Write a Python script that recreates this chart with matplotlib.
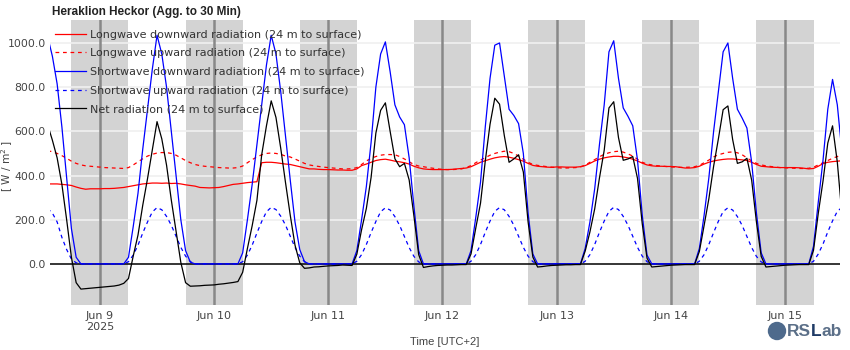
import matplotlib
matplotlib.use("Agg")
import matplotlib.pyplot as plt
import matplotlib.dates as mdates
from matplotlib.patches import Ellipse
import pandas as pd

# hourly readings, Jun 8 13:00 -> Jun 15 12:00 (UTC+2)
times = pd.date_range("2025-06-08 13:00", periods=168, freq="h")

sw_down = [
    1030, 940, 815, 620, 390, 160, 30, 0, 0, 0, 0,
    0, 0, 0, 0, 0, 0, 30, 170, 320, 520, 700, 880, 1035, 950, 800, 600, 400, 200, 60, 8, 0, 0, 0, 0,
    0, 0, 0, 0, 0, 0, 50, 200, 360, 540, 720, 900, 1035, 950, 780, 580, 380, 190, 65, 10, 0, 0, 0, 0,
    0, 0, 0, 0, 0, 0, 60, 200, 350, 550, 800, 950, 1005, 870, 720, 665, 630, 480, 260, 60, 0, 0, 0, 0,
    0, 0, 0, 0, 0, 0, 60, 210, 370, 620, 840, 990, 1000, 850, 700, 672, 635, 500, 230, 45, 0, 0, 0, 0,
    0, 0, 0, 0, 0, 0, 70, 190, 340, 540, 720, 960, 1010, 840, 706, 668, 625, 470, 220, 40, 0, 0, 0, 0,
    0, 0, 0, 0, 0, 0, 70, 220, 390, 600, 780, 960, 1000, 840, 700, 660, 615, 460, 230, 50, 0, 0, 0, 0,
    0, 0, 0, 0, 0, 0, 80, 280, 470, 700, 835, 720, 500,
]
sw_up = [
    250, 230, 190, 120, 65, 22, 5, 0, 0, 0, 0,
    0, 0, 0, 0, 0, 0, 10, 40, 85, 140, 190, 235, 255, 245, 215, 175, 125, 75, 35, 10, 0, 0, 0, 0,
    0, 0, 0, 0, 0, 0, 10, 40, 85, 140, 192, 236, 256, 246, 216, 176, 125, 75, 35, 10, 0, 0, 0, 0,
    0, 0, 0, 0, 0, 0, 12, 42, 88, 142, 192, 236, 254, 244, 214, 174, 124, 74, 34, 9, 0, 0, 0, 0,
    0, 0, 0, 0, 0, 0, 12, 42, 88, 143, 194, 238, 255, 245, 215, 175, 125, 75, 35, 10, 0, 0, 0, 0,
    0, 0, 0, 0, 0, 0, 12, 42, 88, 143, 194, 238, 256, 246, 215, 175, 125, 75, 35, 10, 0, 0, 0, 0,
    0, 0, 0, 0, 0, 0, 12, 42, 88, 142, 193, 237, 254, 244, 214, 174, 124, 74, 34, 9, 0, 0, 0, 0,
    0, 0, 0, 0, 0, 0, 12, 45, 90, 145, 195, 238, 256,
]
lw_down = [
    362, 362, 362, 360, 358, 355, 348, 342, 338, 340, 340,
    340, 341, 341, 342, 344, 346, 350, 354, 358, 362, 364, 366, 366, 365, 366, 364, 365, 362, 358, 355, 352, 346, 345, 344,
    345, 346, 350, 355, 360, 362, 365, 368, 370, 372, 458, 460, 460, 458, 455, 452, 450, 445, 440, 435, 430, 430, 428, 427,
    427, 426, 425, 425, 424, 424, 430, 445, 452, 460, 468, 472, 474, 470, 465, 462, 458, 452, 442, 435, 430, 428, 427, 427,
    427, 427, 428, 430, 432, 434, 440, 450, 460, 467, 474, 480, 484, 486, 483, 478, 472, 465, 455, 446, 442, 440, 438, 437,
    439, 439, 438, 438, 438, 440, 445, 455, 466, 474, 480, 484, 487, 487, 484, 480, 474, 466, 456, 448, 444, 442, 442, 441,
    441, 440, 437, 434, 434, 436, 442, 452, 460, 466, 470, 473, 475, 475, 473, 471, 468, 460, 450, 442, 440, 438, 437, 436,
    436, 436, 436, 435, 433, 430, 432, 442, 454, 460, 463, 465, 467,
]
lw_up = [
    512, 508, 500, 490, 478, 465, 455, 448, 444, 442, 440,
    438, 436, 435, 434, 433, 432, 436, 448, 462, 476, 488, 496, 502, 504, 504, 500, 492, 480, 468, 458, 450, 445, 442, 440,
    438, 436, 435, 434, 434, 436, 443, 458, 472, 484, 494, 500, 502, 500, 496, 488, 484, 475, 465, 455, 448, 444, 441, 438,
    436, 434, 432, 430, 430, 431, 436, 450, 466, 478, 486, 492, 495, 495, 494, 486, 475, 462, 450, 443, 440, 436, 433, 430,
    428, 427, 427, 428, 430, 436, 445, 458, 470, 481, 492, 500, 506, 510, 508, 500, 488, 474, 460, 450, 446, 443, 440, 438,
    436, 434, 434, 435, 436, 439, 447, 460, 472, 485, 496, 503, 508, 510, 506, 498, 488, 474, 460, 452, 448, 445, 443, 441,
    439, 438, 437, 437, 438, 440, 446, 458, 470, 484, 494, 500, 505, 507, 503, 494, 480, 466, 455, 448, 444, 441, 438, 436,
    435, 434, 433, 432, 432, 433, 438, 448, 458, 468, 478, 486, 494,
]
net = [
    630, 560, 480, 360, 200, 30, -85, -114, -112, -110, -108,
    -106, -104, -102, -100, -96, -88, -66, 36, 131, 266, 386, 515, 644, 566, 447, 289, 148, 7, -85, -101, -100, -99, -97, -96,
    -95, -92, -90, -87, -84, -80, -38, 70, 173, 288, 494, 625, 738, 663, 524, 369, 221, 85, 5, -20, -18, -14, -13, -11,
    -9, -8, -7, -5, -6, -7, 44, 155, 251, 392, 592, 695, 729, 600, 476, 440, 455, 380, 217, 42, -16, -12, -9, -7,
    -6, -5, -5, -4, -3, -3, 45, 162, 275, 466, 632, 750, 723, 581, 460, 475, 494, 416, 190, 31, -14, -12, -9, -7,
    -6, -5, -4, -4, -3, -3, 58, 145, 249, 389, 514, 706, 734, 572, 469, 475, 486, 387, 181, 26, -14, -12, -10, -8,
    -6, -5, -4, -3, -3, -3, 56, 174, 295, 442, 566, 698, 715, 563, 455, 462, 478, 379, 190, 34, -14, -12, -10, -8,
    -6, -5, -4, -3, -3, -3, 62, 229, 376, 547, 625, 461, 217,
]

series = [
    ("Longwave downward radiation (24 m to surface)", lw_down, "#ff0000", "-"),
    ("Longwave upward radiation (24 m to surface)", lw_up, "#ff0000", "--"),
    ("Shortwave downward radiation (24 m to surface)", sw_down, "#0000ff", "-"),
    ("Shortwave upward radiation (24 m to surface)", sw_up, "#0000ff", "--"),
    ("Net radiation (24 m to surface)", net, "#000000", "-"),
]

day_ticks = pd.date_range("2025-06-09", periods=7, freq="D")
day_labels = ["Jun 9\n2025", "Jun 10", "Jun 11", "Jun 12", "Jun 13", "Jun 14", "Jun 15"]

fig = plt.figure(figsize=(8.5, 3.5), dpi=100)
ax = fig.add_axes([50 / 850, 45 / 350, 790 / 850, 285 / 350])

# night shading 18:00 -> 06:00 and midnight markers
for d in day_ticks:
    ax.axvspan(d - pd.Timedelta(hours=6), d + pd.Timedelta(hours=6), color="#d3d3d3", lw=0, zorder=0)
    ax.axvline(d, color="#888888", lw=1.8, zorder=1)

for yv in [200, 400, 600, 800, 1000]:
    ax.axhline(yv, color="#f0f0f0", lw=1.2, zorder=0.5)
ax.axhline(0, color="black", lw=1.1, zorder=1.5)

for label, vals, col, ls in series:
    ax.plot(times, vals, color=col, ls=ls, lw=0.9, label=label, zorder=3,
            dashes=(3, 3) if ls == "--" else (None, None))

ax.set_xlim(pd.Timestamp("2025-06-08 13:30"), pd.Timestamp("2025-06-15 11:34"))
ax.set_ylim(-186, 1104)
ax.set_yticks([0, 200, 400, 600, 800, 1000])
ax.set_yticklabels(["0.0", "200.0", "400.0", "600.0", "800.0", "1000.0"])
ax.set_xticks(day_ticks)
ax.set_xticklabels(day_labels)
ax.tick_params(axis="x", length=0, labelsize=8, colors="#444444", pad=4)
ax.tick_params(axis="y", length=0, labelsize=7.8, colors="#444444", pad=3)
for s in ax.spines.values():
    s.set_visible(False)

fig.text(7.5 / 850, 1 - 166 / 350, "[ W / m$^2$ ]", rotation=90, ha="center", va="center",
         fontsize=7.6, color="#444444")
fig.text(445 / 850, 1 - 342 / 350, "Time [UTC+2]", ha="center", va="center",
         fontsize=8, color="#444444", family="Liberation Sans")
fig.text(52 / 850, 1 - 12 / 350, "Heraklion Heckor (Agg. to 30 Min)", ha="left", va="center",
         fontsize=8.5, fontweight="bold", color="#222222", family="Liberation Sans")

ax.legend(loc="upper left", bbox_to_anchor=(-0.002, 0.99), frameon=False, fontsize=8,
          handlelength=2.75, handletextpad=0.4, labelspacing=0.78, borderaxespad=0.3,
          borderpad=0.3, labelcolor="#333333")

# RSLab logo
fig.add_artist(Ellipse((777 / 850, 1 - 331 / 350), 17 / 850, 17 / 350, transform=fig.transFigure,
                       color="#4e6a8c", zorder=5))
y_logo = 1 - 331 / 350
t1 = fig.text(787 / 850, y_logo, "RS", fontsize=12.5, fontweight="bold", va="center",
              color="#5b6f88", family="Liberation Sans")
t2 = fig.text(0, y_logo, "L", fontsize=12.5, fontweight="bold", va="center",
              color="#1f3b66", family="Liberation Sans")
t3 = fig.text(0, y_logo, "ab", fontsize=12.5, fontweight="bold", va="center",
              color="#5b6f88", family="Liberation Sans")
fig.canvas.draw()
r = fig.canvas.get_renderer()
bb1 = t1.get_window_extent(r).transformed(fig.transFigure.inverted())
t2.set_x(bb1.x1)
bb2 = t2.get_window_extent(r).transformed(fig.transFigure.inverted())
t3.set_x(bb2.x1)

fig.savefig("out.png", dpi=100)
